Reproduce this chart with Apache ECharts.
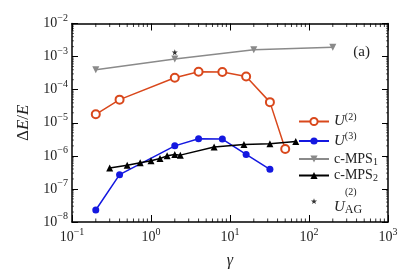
<!DOCTYPE html>
<html><head><meta charset="utf-8">
<script src="https://cdn.jsdelivr.net/npm/echarts@6/dist/echarts.min.js"></script>
<style>html,body{margin:0;padding:0;background:#fff}#c{width:415px;height:277px}</style>
</head><body><div id="c"></div>
<script>
// ---- data ----
const u2X = [0.2, 0.4, 2, 4, 8, 16, 32, 50];
const u2Y = [1.8e-5, 5e-5, 2.3e-4, 3.5e-4, 3.4e-4, 2.5e-4, 4.2e-5, 1.6e-6];
const u3X = [0.2, 0.4, 2, 4, 8, 16, 32];
const u3Y = [2.3e-8, 2.7e-7, 2.0e-6, 3.3e-6, 3.2e-6, 1.1e-6, 3.9e-7];
const mps1X = [0.2, 2, 20, 200];
const mps1Y = [4.0e-4, 8.4e-4, 1.6e-3, 1.9e-3];
const mps2X = [0.3, 0.5, 0.73, 1.0, 1.3, 1.6, 2.0, 2.35, 6.3, 15, 32, 68];
const mps2Y = [4.3e-7, 5.2e-7, 6.2e-7, 7.1e-7, 8.3e-7, 1.0e-6, 1.1e-6, 1.05e-6, 1.85e-6, 2.2e-6, 2.3e-6, 2.7e-6];
const agX = [2];
const agY = [1.35e-3];
const seriesNames = ['U2', 'U3', 'c-MPS1', 'c-MPS2', 'UAG'];
const xMinorTicks = [0.2,0.3,0.4,0.5,0.6,0.7,0.8,0.9, 2,3,4,5,6,7,8,9, 20,30,40,50,60,70,80,90, 200,300,400,500,600,700,800,900];
const yMinorTicks = [];
[1e-8,1e-7,1e-6,1e-5,1e-4,1e-3].forEach(d => { for (let k = 2; k <= 9; k++) yMinorTicks.push(d * k); });

const pairs = (xs, ys) => xs.map((x, i) => [x, ys[i]]);
const SERIF = '"Liberation Serif", "DejaVu Serif", serif';
const sup = n => String(n).replace('-', '\u2212');
const tickFmt = v => '{b|10}{e|' + sup(Math.round(Math.log10(v))) + '}';
const tickRich = {
  b: { fontFamily: SERIF, fontSize: 14, color: '#222' },
  e: { fontFamily: SERIF, fontSize: 10, color: '#222', padding: [0, 0, 11, 0] }
};
const starPath = 'path://M0,-10L2.35,-3.24L9.51,-3.09L3.8,1.24L5.88,8.09L0,4L-5.88,8.09L-3.8,1.24L-9.51,-3.09L-2.35,-3.24Z';
const starIcon = 'path://M-14,-14L-14,-14ZM14,14L14,14ZM0,-10L2.35,-3.24L9.51,-3.09L3.8,1.24L5.88,8.09L0,4L-5.88,8.09L-3.8,1.24L-9.51,-3.09L-2.35,-3.24Z';

const axisLineStyle = { color: '#000', width: 1.5 };
function baseX(extra) {
  return Object.assign({
    type: 'log', logBase: 10, min: 0.1, max: 1000, splitNumber: 4,
    axisLine: { show: true, onZero: false, lineStyle: axisLineStyle },
    axisTick: { show: true, inside: true, length: 7, lineStyle: { color: '#000', width: 1 } },
    splitLine: { show: false }
  }, extra);
}
function baseY(extra) {
  return Object.assign({
    type: 'log', logBase: 10, min: 1e-8, max: 1e-2, splitNumber: 6,
    axisLine: { show: true, onZero: false, lineStyle: axisLineStyle },
    axisTick: { show: true, inside: true, length: 6, lineStyle: { color: '#000', width: 1 } },
    splitLine: { show: false }
  }, extra);
}

const chart = echarts.init(document.getElementById('c'), null, { renderer: 'canvas' });
chart.setOption({
  animation: false,
  backgroundColor: '#fff',
  grid: { left: 72, top: 23.5, right: 27, bottom: 55 },
  title: {
    text: '(a)', right: 40, top: 40,
    textStyle: { fontFamily: SERIF, fontSize: 15, fontWeight: 'normal', color: '#222' }
  },
  xAxis: [
    baseX({
      position: 'bottom',
      axisLabel: { formatter: tickFmt, rich: tickRich, margin: 5 },
      name: '{i|γ}', nameLocation: 'middle', nameGap: 31,
      nameTextStyle: { rich: { i: { fontFamily: SERIF, fontStyle: 'italic', fontSize: 16, color: '#222' } } }
    }),
    baseX({ position: 'top', axisLabel: { show: false } })
  ],
  yAxis: [
    baseY({
      position: 'left',
      axisLabel: { formatter: tickFmt, rich: tickRich, margin: 4 },
      name: '{n|Δ}{i|E}{n|/}{i|E}', nameLocation: 'middle', nameGap: 40, nameRotate: 90,
      nameTextStyle: { rich: {
        n: { fontFamily: SERIF, fontSize: 17, color: '#222' },
        i: { fontFamily: SERIF, fontStyle: 'italic', fontSize: 17, color: '#222' }
      } }
    }),
    baseY({ position: 'right', axisLabel: { show: false } })
  ],
  legend: {
    orient: 'vertical', left: 293, top: 107,
    itemWidth: 30, itemHeight: 9, itemGap: 0.5,
    data: [
      { name: 'U2' }, { name: 'U3' }, { name: 'c-MPS1' }, { name: 'c-MPS2' },
      { name: 'UAG', icon: starIcon }
    ],
    formatter: function (name) {
      if (name === 'U2') return '{i|U}{s|(2)}';
      if (name === 'U3') return '{i|U}{s|(3)}';
      if (name === 'c-MPS1') return '{n|c-MPS}{d|1}';
      if (name === 'c-MPS2') return '{n|c-MPS}{d|2}';
      return '{s2|(2)}\n{i2|U}{d2|AG}';
    },
    textStyle: {
      fontFamily: SERIF, fontSize: 14, color: '#222',
      rich: {
        i: { fontFamily: SERIF, fontStyle: 'italic', fontSize: 15, color: '#222', lineHeight: 16 },
        s: { fontFamily: SERIF, fontSize: 10, color: '#222', padding: [0, 0, 9, 0], lineHeight: 16 },
        n: { fontFamily: SERIF, fontSize: 14, color: '#222', lineHeight: 16 },
        d: { fontFamily: SERIF, fontSize: 10, color: '#222', padding: [6, 0, 0, 0], lineHeight: 16 },
        s2: { fontFamily: SERIF, fontSize: 10, color: '#222', padding: [3, 0, 0, 11], lineHeight: 12 },
        i2: { fontFamily: SERIF, fontStyle: 'italic', fontSize: 15, color: '#222', lineHeight: 22 },
        d2: { fontFamily: SERIF, fontSize: 12, color: '#222', padding: [5, 0, 0, 0], lineHeight: 22 }
      }
    }
  },
  series: [
    {
      name: 'U2', type: 'line', data: pairs(u2X, u2Y),
      symbol: 'emptyCircle', symbolSize: 8,
      color: '#d9481c',
      lineStyle: { width: 1.5, color: '#d9481c' },
      itemStyle: { color: '#d9481c', borderColor: '#d9481c', borderWidth: 1.6 }
    },
    {
      name: 'U3', type: 'line', data: pairs(u3X, u3Y),
      symbol: 'circle', symbolSize: 7,
      color: '#1418e0',
      lineStyle: { width: 1.5, color: '#1418e0' },
      itemStyle: { color: '#1418e0' }
    },
    {
      name: 'c-MPS1', type: 'line', data: pairs(mps1X, mps1Y),
      symbol: 'triangle', symbolRotate: 180, symbolSize: 7,
      color: '#8a8a8a',
      lineStyle: { width: 1.5, color: '#8a8a8a' },
      itemStyle: { color: '#8a8a8a' }
    },
    {
      name: 'c-MPS2', type: 'line', data: pairs(mps2X, mps2Y),
      symbol: 'triangle', symbolSize: 7,
      color: '#000',
      lineStyle: { width: 1.5, color: '#000' },
      itemStyle: { color: '#000' }
    },
    {
      name: 'UAG', type: 'scatter', data: pairs(agX, agY),
      symbol: starPath, symbolSize: 6,
      color: '#000', itemStyle: { color: '#000' }
    },
    {
      type: 'custom', silent: true, z: 1,
      data: xMinorTicks.map(v => [v, 1e-5]),
      renderItem: function (params, api) {
        const px = api.coord([api.value(0), 1e-5])[0];
        const cs = params.coordSys;
        return { type: 'group', children: [
          { type: 'line', shape: { x1: px, y1: cs.y + cs.height, x2: px, y2: cs.y + cs.height - 3.5 }, style: { stroke: '#000', lineWidth: 0.8 } },
          { type: 'line', shape: { x1: px, y1: cs.y, x2: px, y2: cs.y + 3.5 }, style: { stroke: '#000', lineWidth: 0.8 } }
        ] };
      }
    },
    {
      type: 'custom', silent: true, z: 1,
      data: yMinorTicks.map(v => [1, v]),
      renderItem: function (params, api) {
        const py = api.coord([1, api.value(1)])[1];
        const cs = params.coordSys;
        return { type: 'group', children: [
          { type: 'line', shape: { x1: cs.x, y1: py, x2: cs.x + 2, y2: py }, style: { stroke: '#000', lineWidth: 0.6 } },
          { type: 'line', shape: { x1: cs.x + cs.width, y1: py, x2: cs.x + cs.width - 2, y2: py }, style: { stroke: '#000', lineWidth: 0.6 } }
        ] };
      }
    }
  ]
});
</script></body></html>
